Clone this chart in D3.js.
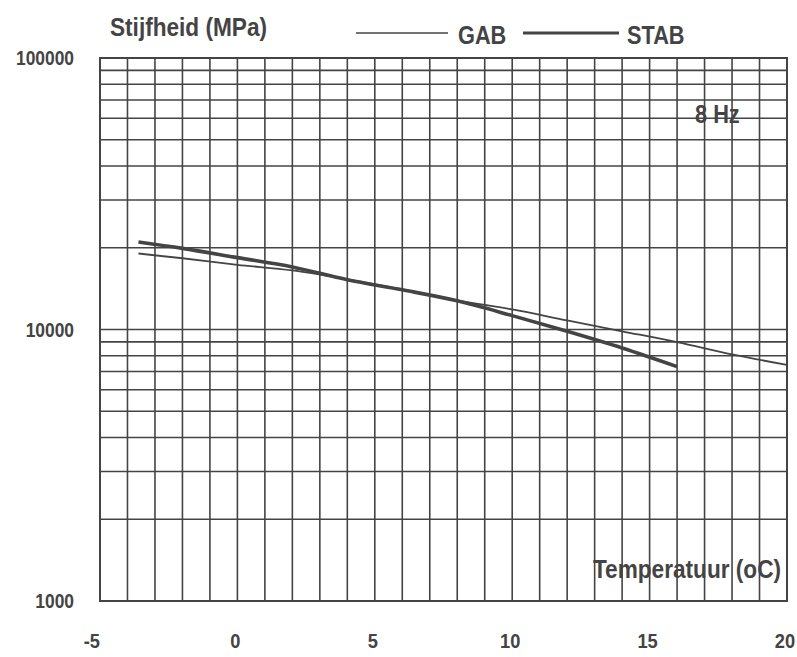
<!DOCTYPE html>
<html lang="nl">
<head>
  <meta charset="UTF-8">
  <title>Stijfheid</title>
  <script src="https://cdn.jsdelivr.net/npm/d3@7"></script>
  <style>
    body {
      margin: 0;
      padding: 0;
      background: #fff;
    }
    text {
      font-family: "Liberation Sans", Arial, sans-serif;
      font-weight: bold;
      fill: #444;
    }
  </style>
</head>
<body>
<div id="chart"></div>

<script>
  // Data
  const gabTemp = [-3.6, -2, 0, 2, 4, 6, 8, 10, 12, 14, 16, 18, 20];
  const gabStiff = [19050, 18300, 17300, 16500, 15300, 14050, 12800, 11850, 10800, 9850, 8980, 8100, 7400];
  const stabTemp = [-3.6, -2, 0, 2, 4, 6, 8, 10, 12, 14, 16];
  const stabStiff = [21000, 19900, 18400, 17000, 15250, 14000, 12750, 11250, 9850, 8550, 7300];

  const xTickLabels = [-5, 0, 5, 10, 15, 20];
  const yTickLabels = [1000, 10000, 100000];

  const width = 797;
  const height = 657;
  const ink = "#444";
  const squeeze = 0.87;   // the original lettering is condensed

  const x = d3.scaleLinear().domain([-5, 20]).range([100, 787]);
  const y = d3.scaleLog().domain([1000, 100000]).range([601, 58]);

  const svg = d3.select("#chart").append("svg")
          .attr("width", width)
          .attr("height", height)
          .attr("viewBox", `0 0 ${width} ${height}`)
          .style("display", "block")
          .style("background", "#fff");

  // condensed text helper
  function label(px, py, str, size, anchor) {
    return svg.append("text")
            .attr("transform", `translate(${px},${py}) scale(${squeeze},1)`)
            .attr("text-anchor", anchor || "start")
            .style("font-size", size + "px")
            .text(str);
  }

  // Grid: every degree, and 1..9 per decade
  const grid = svg.append("g")
          .attr("stroke", ink)
          .attr("stroke-width", 1.6)
          .attr("fill", "none");

  grid.selectAll("line.v")
          .data(d3.range(-5, 21))
          .join("line")
          .attr("class", "v")
          .attr("x1", d => x(d)).attr("x2", d => x(d))
          .attr("y1", y(100000)).attr("y2", y(1000));

  grid.selectAll("line.h")
          .data(y.ticks())
          .join("line")
          .attr("class", "h")
          .attr("x1", x(-5)).attr("x2", x(20))
          .attr("y1", d => y(d)).attr("y2", d => y(d));

  grid.append("rect")
          .attr("x", x(-5)).attr("y", y(100000))
          .attr("width", x(20) - x(-5))
          .attr("height", y(1000) - y(100000))
          .attr("stroke-width", 2);

  // Axis labels
  svg.append("g")
          .selectAll("text")
          .data(xTickLabels)
          .join("text")
          .attr("transform", d => `translate(${d < 0 ? x(d) : x(d) - 2},648) scale(${squeeze},1)`)
          .attr("text-anchor", d => d < 0 ? "end" : "middle")
          .style("font-size", "21px")
          .text(d => d);

  svg.append("g")
          .selectAll("text")
          .data(yTickLabels)
          .join("text")
          .attr("transform", d => `translate(74,${y(d) + 7}) scale(${squeeze},1)`)
          .attr("text-anchor", "end")
          .style("font-size", "20px")
          .text(d => d);

  // Series
  const line = d3.line()
          .x(d => x(d[0]))
          .y(d => y(d[1]))
          .curve(d3.curveMonotoneX);

  svg.append("path")
          .datum(d3.zip(gabTemp, gabStiff))
          .attr("fill", "none")
          .attr("stroke", ink)
          .attr("stroke-width", 1.8)
          .attr("d", line);

  svg.append("path")
          .datum(d3.zip(stabTemp, stabStiff))
          .attr("fill", "none")
          .attr("stroke", ink)
          .attr("stroke-width", 3.6)
          .attr("d", line);

  // Titles and legend
  label(110, 36, "Stijfheid (MPa)", 26);

  svg.append("line")
          .attr("x1", 356).attr("x2", 448)
          .attr("y1", 33).attr("y2", 33)
          .attr("stroke", ink).attr("stroke-width", 1.6);
  label(458, 44, "GAB", 25);

  svg.append("line")
          .attr("x1", 523).attr("x2", 619)
          .attr("y1", 33).attr("y2", 33)
          .attr("stroke", ink).attr("stroke-width", 3);
  label(627, 44, "STAB", 25);

  label(695, 123, "8 Hz", 25);

  label(781, 578, "Temperatuur (oC)", 26, "end");
</script>
</body>
</html>
